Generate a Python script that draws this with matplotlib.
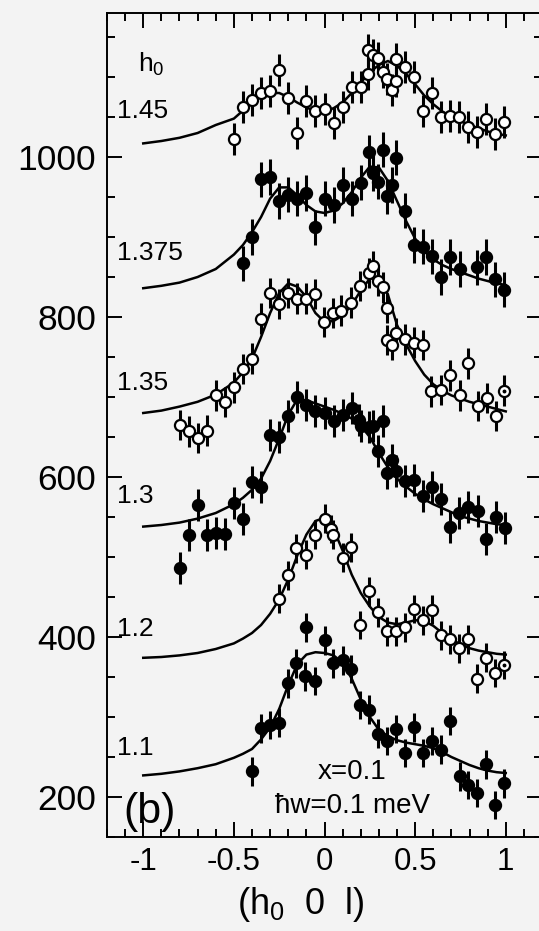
import matplotlib
matplotlib.use('Agg')
import matplotlib.pyplot as plt
from matplotlib.ticker import MultipleLocator, FixedLocator, FixedFormatter

plt.rcParams['font.family'] = ['Liberation Sans', 'DejaVu Sans']
plt.rcParams['mathtext.fontset'] = 'custom'
plt.rcParams['mathtext.rm'] = 'Liberation Sans'
plt.rcParams['mathtext.it'] = 'Liberation Sans'
plt.rcParams['mathtext.default'] = 'regular'
plt.rcParams['axes.unicode_minus'] = False

# measured scans, (h0 0 l), counts with offsets
h145_x = [-0.50, -0.45, -0.40, -0.35, -0.30, -0.25, -0.20, -0.15, -0.10, -0.05, 0.00, 0.05, 0.10, 0.15, 0.20,
          0.24, 0.24, 0.27, 0.295, 0.32, 0.345, 0.37, 0.395, 0.395, 0.445, 0.495, 0.545, 0.595, 0.64, 0.69,
          0.74, 0.79, 0.84, 0.89, 0.94, 0.99]
h145_y = [1022, 1062, 1071, 1080, 1083, 1109, 1074, 1030, 1070, 1058, 1060, 1043, 1062, 1088, 1087,
          1104, 1134, 1127, 1124, 1106, 1098, 1084, 1122, 1095, 1112, 1100, 1057, 1080, 1050, 1051,
          1050, 1037, 1031, 1047, 1029, 1044]

h1375_x = [-0.45, -0.40, -0.35, -0.30, -0.25, -0.20, -0.15, -0.10, -0.05, 0.0, 0.05, 0.10, 0.15, 0.20, 0.245,
           0.27, 0.295, 0.32, 0.345, 0.37, 0.395, 0.445, 0.495, 0.545, 0.595, 0.645, 0.695, 0.745, 0.84, 0.89,
           0.94, 0.99]
h1375_y = [867, 900, 972, 975, 945, 953, 948, 955, 912, 948, 940, 965, 948, 968, 1006,
           980, 969, 1009, 951, 965, 999, 933, 890, 888, 876, 850, 875, 860, 862, 875,
           847, 834]

h135_x = [-0.80, -0.75, -0.70, -0.65, -0.60, -0.55, -0.50, -0.45, -0.40, -0.35, -0.30, -0.25, -0.20, -0.15,
          -0.10, -0.055, -0.005, 0.045, 0.09, 0.145, 0.195, 0.245, 0.27, 0.295, 0.32, 0.345, 0.345, 0.37, 0.395,
          0.445, 0.495, 0.545, 0.59, 0.645, 0.695, 0.745, 0.79, 0.845, 0.895, 0.945, 0.99]
h135_y = [665, 657, 649, 658, 702, 694, 712, 735, 748, 798, 830, 816, 830, 823,
          823, 829, 794, 805, 808, 818, 839, 855, 864, 845, 837, 811, 771, 765, 780,
          772, 768, 765, 707, 709, 727, 702, 742, 689, 699, 676, 708]

h13_x = [-0.80, -0.75, -0.70, -0.65, -0.60, -0.55, -0.50, -0.45, -0.40, -0.35, -0.30, -0.25, -0.20, -0.15,
         -0.10, -0.05, 0.0, 0.05, 0.10, 0.15, 0.19, 0.20, 0.245, 0.27, 0.325, 0.295, 0.37, 0.345, 0.395,
         0.445, 0.495, 0.545, 0.595, 0.645, 0.695, 0.74, 0.79, 0.845, 0.89, 0.945, 0.995]
h13_y = [486, 528, 565, 527, 530, 529, 568, 548, 594, 588, 653, 650, 676, 700,
         690, 683, 680, 670, 677, 686, 671, 664, 663, 664, 670, 632, 621, 605, 607,
         595, 596, 576, 587, 573, 538, 555, 563, 557, 522, 550, 536]

h12_x = [-0.25, -0.20, -0.155, -0.10, -0.05, 0.0, 0.037, 0.045, 0.10, 0.145, 0.195, 0.245, 0.295, 0.345,
         0.395, 0.445, 0.495, 0.545, 0.595, 0.645, 0.69, 0.74, 0.79, 0.84, 0.89, 0.94, 0.99]
h12_y = [448, 477, 511, 503, 528, 548, 535, 528, 499, 512, 415, 457, 431, 407,
         407, 412, 435, 421, 434, 402, 397, 386, 397, 348, 374, 355, 365]

h11_x = [-0.40, -0.35, -0.30, -0.25, -0.20, -0.155, -0.11, -0.10, -0.05, 0.0, 0.045, 0.10, 0.145, 0.195, 0.245,
         0.295, 0.345, 0.395, 0.445, 0.495, 0.545, 0.595, 0.645, 0.695, 0.745, 0.79, 0.84, 0.89, 0.94, 0.99]
h11_y = [232, 286, 290, 293, 342, 367, 351, 412, 345, 396, 367, 371, 360, 315, 309,
         279, 270, 285, 255, 287, 255, 270, 259, 295, 226, 215, 205, 241, 190, 217]

# error bar half heights
errors = [20, 22, 19, 20, 18, 18]

# fitted curves
fit_x = [-1.0, -0.9, -0.8, -0.7, -0.6, -0.5, -0.45, -0.4, -0.35, -0.3, -0.25, -0.2, -0.15, -0.1, -0.05, 0.0,
         0.05, 0.1, 0.15, 0.2, 0.25, 0.3, 0.35, 0.4, 0.45, 0.5, 0.55, 0.6, 0.65, 0.7, 0.75, 0.8, 0.85, 0.9,
         0.95, 1.0]
fit145 = [1017, 1020, 1024, 1030, 1040, 1048, 1058, 1068, 1076, 1080, 1080, 1075, 1068, 1062, 1057, 1057,
          1061, 1068, 1080, 1093, 1106, 1115, 1120, 1114, 1104, 1091, 1077, 1066, 1057, 1050, 1045, 1040, 1036,
          1032, 1029, 1027]
fit1375 = [836, 839, 843, 850, 860, 878, 890, 906, 925, 948, 962, 962, 952, 940, 932, 930,
           933, 942, 956, 974, 988, 987, 970, 945, 920, 898, 882, 872, 865, 860, 856, 852, 848,
           845, 842, 840]
fit135 = [680, 683, 688, 694, 703, 718, 731, 748, 775, 805, 830, 842, 838, 825, 805, 794,
          795, 802, 815, 833, 848, 850, 828, 790, 766, 745, 728, 716, 708, 702, 698, 694, 691,
          688, 685, 682]
fit13 = [538, 540, 543, 548, 555, 566, 574, 584, 598, 620, 648, 678, 697, 696, 692, 688,
         684, 679, 673, 664, 650, 630, 612, 598, 588, 579, 572, 566, 561, 556, 551, 548, 545,
         543, 541, 540]
fit12 = [374, 375, 377, 380, 385, 392, 398, 405, 415, 429, 447, 472, 502, 528, 545, 549,
         535, 508, 478, 455, 438, 425, 418, 416, 418, 421, 420, 414, 405, 397, 391, 386, 383,
         381, 379, 378]
fit11 = [227, 229, 232, 236, 241, 249, 254, 260, 272, 287, 310, 340, 366, 378, 381, 380,
         377, 368, 348, 322, 300, 284, 276, 271, 268, 266, 264, 261, 256, 250, 245, 240, 236,
         233, 231, 230]

labels = ['1.45', '1.375', '1.35', '1.3', '1.2', '1.1']
series_x = [h145_x, h1375_x, h135_x, h13_x, h12_x, h11_x]
series_y = [h145_y, h1375_y, h135_y, h13_y, h12_y, h11_y]
fits = [fit145, fit1375, fit135, fit13, fit12, fit11]
open_marker = [True, False, True, False, True, False]
label_y = [1057, 880, 718, 576, 410, 261]

bg = '#f3f3f3'
fig = plt.figure(figsize=(5.39, 9.31), dpi=100, facecolor=bg)
ax = fig.add_axes([107 / 539, 1 - 837 / 931, 435 / 539, 824 / 931], facecolor=bg)

for xs, ys, fy, err, hollow in zip(series_x, series_y, fits, errors, open_marker):
    ax.plot(fit_x, fy, color='black', lw=1.8, zorder=2)
    ax.errorbar(xs, ys, yerr=err, fmt='o', ms=8, mew=1.6, mec='black',
                mfc='white' if hollow else 'black', ecolor='black', elinewidth=2.2,
                capsize=0, zorder=3)

# the last points of two scans have a centre dot
for xs, ys in [(h135_x, h135_y), (h12_x, h12_y)]:
    ax.plot(xs[-1], ys[-1], 'o', ms=1.8, color='black', zorder=4)

for lab, ly in zip(labels, label_y):
    ax.text(-1.145, ly, lab, fontsize=19, ha='left', va='center')
ax.text(-1.03, 1116, 'h$_0$', fontsize=19, ha='left', va='center')
ax.text(-1.11, 181, '(b)', fontsize=31, ha='left', va='center')
ax.text(-0.04, 231, 'x=0.1', fontsize=20, ha='left', va='center')
ax.text(-0.275, 189, 'ħw=0.1 meV', fontsize=20, ha='left', va='center')

ax.set_xlim(-1.2, 1.2)
ax.set_ylim(150, 1180)
ax.xaxis.set_major_locator(FixedLocator([-1, -0.5, 0, 0.5, 1]))
ax.xaxis.set_major_formatter(FixedFormatter(['-1', '-0.5', '0', '0.5', '1']))
ax.xaxis.set_minor_locator(MultipleLocator(0.1))
ax.yaxis.set_major_locator(MultipleLocator(200))
ax.yaxis.set_minor_locator(MultipleLocator(50))

ax.tick_params(which='both', direction='in', top=True, right=True, width=1.4)
ax.tick_params(which='major', length=11)
ax.tick_params(axis='y', which='major', pad=8, labelsize=25.5)
ax.tick_params(axis='x', which='major', pad=7, labelsize=22.5)
ax.tick_params(which='minor', length=6)
for s in ax.spines.values():
    s.set_linewidth(1.4)

fig.text(301 / 539, 1 - 905 / 931, '(h$_0$  0  l)', fontsize=26, ha='center', va='center')

fig.savefig('out.png', dpi=100, facecolor=bg)
